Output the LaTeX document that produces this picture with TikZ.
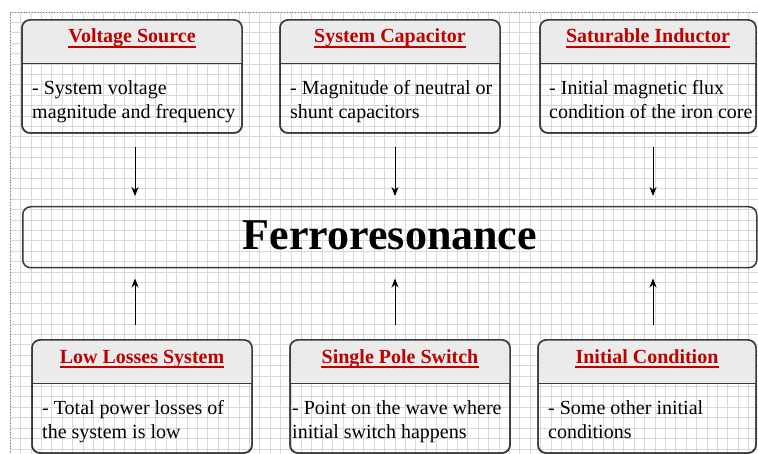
\documentclass[tikz,border=0pt]{standalone}
\usepackage{fontspec}
\setmainfont{Liberation Serif}
\usetikzlibrary{arrows.meta,calc}
\definecolor{titlered}{HTML}{C00000}
\definecolor{hdrgray}{HTML}{EBEBEB}
\definecolor{gridgray}{HTML}{D8D8D8}
\definecolor{edgegray}{HTML}{3A3A3A}
\definecolor{pageblue}{HTML}{4F7BBE}
\tikzset{
  infobox/.style={draw=edgegray, line width=1.5pt, rounded corners=8pt,
    minimum width=220pt, minimum height=113pt, inner sep=0pt, outer sep=0pt},
  hdr/.style={fill=hdrgray},
  sepline/.style={draw=edgegray, line width=0.9pt},
  titletext/.style={font=\fontsize{20}{24}\selectfont\bfseries, text=titlered, inner sep=0pt, anchor=base},
  bodytext/.style={font=\fontsize{20}{24}\selectfont, text=black, inner sep=0pt, anchor=base west},
  uline/.style={draw=titlered, line width=1.2pt},
  arr/.style={draw=black, line width=0.9pt, -{Stealth[length=9pt,width=7pt]}},
  ferrobox/.style={draw=edgegray, line width=1.5pt, rounded corners=8pt, inner sep=0pt,
    minimum width=734pt, minimum height=61pt},
}
\newcommand{\infoboxdraw}[6]{%
  \node[infobox, minimum width=#4pt, anchor=north west] (#1) at (#2,#3) {};
  \fill[hdr] ($(#1.north west)+(0,43)$) [rounded corners=8pt] -- (#1.north west) -- (#1.north east) [sharp corners] -- ($(#1.north east)+(0,43)$) -- cycle;
  \draw[infobox, minimum width=#4pt] (#1.north west) rectangle (#1.south east);
  \draw[sepline] ($(#1.north west)+(0,43)$) -- ($(#1.north east)+(0,43)$);
  \node[titletext] (#1-t) at ($(#1.north)+(0,23)$) {#5};
  \draw[uline] ($(#1-t.base west)+(0,4)$) -- ($(#1-t.base east)+(0,4)$);
  #6
}
\begin{document}
\begin{tikzpicture}[x=1pt,y=-1pt]
  \useasboundingbox (0,0) rectangle (758,454);
  \fill[white] (0,0) rectangle (758,454);
  % grid
  \foreach \i in {0,...,72} {\draw[gridgray, line width=0.6pt] ({10+\i*10.4},12) -- ({10+\i*10.4},454);}
  \foreach \j in {0,...,42} {\draw[gridgray, line width=0.6pt] (10,{12+\j*10.4}) -- (758,{12+\j*10.4});}
  \draw[pageblue, dotted, line width=0.8pt] (758,12) -- (10,12) -- (10,454);

  % top boxes
  \infoboxdraw{vs}{22}{20}{220}{Voltage Source}{%
    \node[bodytext] (vs-l1) at ($(vs.north west)+(10,75)$) {- System voltage};
    \node[bodytext] (vs-l2) at ($(vs.north west)+(10,99)$) {magnitude and frequency};}
  \infoboxdraw{sc}{280}{20}{220}{System Capacitor}{%
    \node[bodytext] (sc-l1) at ($(sc.north west)+(10,75)$) {- Magnitude of neutral or};
    \node[bodytext] (sc-l2) at ($(sc.north west)+(10,99)$) {shunt capacitors};}
  \infoboxdraw{si}{540}{20}{216}{Saturable Inductor}{%
    \node[bodytext] (si-l1) at ($(si.north west)+(9,75)$) {- Initial magnetic flux};
    \node[bodytext] (si-l2) at ($(si.north west)+(9,99)$) {condition of the iron core};}

  % central box
  \node[ferrobox, anchor=north west] (ferro) at (22,206) {};
  \node[font=\fontsize{44}{50}\selectfont\bfseries, inner sep=0pt, anchor=base] (ferro-t) at (390,250) {Ferroresonance};

  % bottom boxes
  \infoboxdraw{ll}{32}{340}{220}{Low Losses System}{%
    \node[bodytext] (ll-l1) at ($(ll.north west)+(10,74)$) {- Total power losses of};
    \node[bodytext] (ll-l2) at ($(ll.north west)+(10,98)$) {the system is low};}
  \infoboxdraw{sp}{290}{340}{220}{Single Pole Switch}{%
    \node[bodytext] (sp-l1) at ($(sp.north west)+(2,74)$) {- Point on the wave where};
    \node[bodytext] (sp-l2) at ($(sp.north west)+(2,98)$) {initial switch happens};}
  \infoboxdraw{ic}{538}{340}{218}{Initial Condition}{%
    \node[bodytext] (ic-l1) at ($(ic.north west)+(10,74)$) {- Some other initial};
    \node[bodytext] (ic-l2) at ($(ic.north west)+(10,98)$) {conditions};}

  % arrows
  \draw[arr] ($(vs.south)+(3,14)$) -- ($(vs.south |- ferro.north)+(3,-10)$);
  \draw[arr] ($(sc.south)+(5,14)$) -- ($(sc.south |- ferro.north)+(5,-10)$);
  \draw[arr] ($(si.south)+(5,14)$) -- ($(si.south |- ferro.north)+(5,-10)$);
  \draw[arr] ($(ll.north)+(-7,-15)$) -- ($(ll.north |- ferro.south)+(-7,10)$);
  \draw[arr] ($(sp.north)+(-5,-15)$) -- ($(sp.north |- ferro.south)+(-5,10)$);
  \draw[arr] ($(ic.north)+(6,-15)$) -- ($(ic.north |- ferro.south)+(6,10)$);
\end{tikzpicture}
\end{document}
